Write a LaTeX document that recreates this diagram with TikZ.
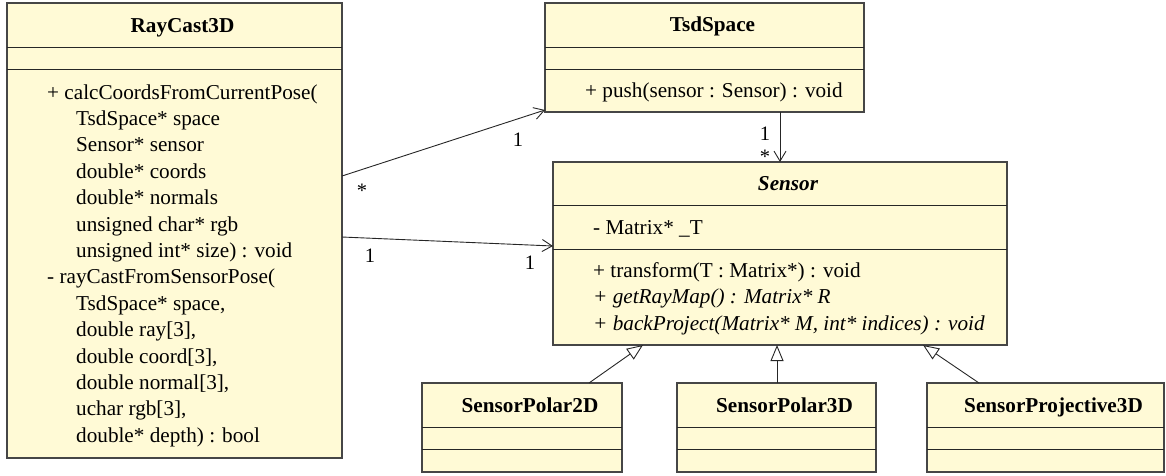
\documentclass[tikz,border=0pt]{standalone}
\usepackage{fontspec}
\setmainfont{Liberation Serif}
\usetikzlibrary{arrows.meta,calc}
\definecolor{umlfill}{RGB}{255,250,214}
\definecolor{umlline}{RGB}{70,70,70}
\begin{document}
\begin{tikzpicture}[x=1pt,y=-1pt,
  box/.style={draw=umlline, fill=umlfill, line width=1.2pt, anchor=north west, inner sep=0pt, outer sep=0pt},
  sepline/.style={draw=black!85, line width=0.9pt},
  txt/.style={anchor=base west, inner sep=0pt, font=\fontsize{21.2}{25}\selectfont},
  ttl/.style={anchor=base, inner sep=0pt, font=\fontsize{21.2}{25}\selectfont\bfseries},
  mult/.style={anchor=base, inner sep=0pt, font=\fontsize{20.5}{25}\selectfont},
  assoc/.style={draw=black!85, line width=0.9pt, -{Straight Barb[length=10pt,width=12pt]}},
  gen/.style={draw=black!85, line width=0.9pt, -{Triangle[open,length=16pt,width=13pt,fill=white]}},
]
\useasboundingbox (0,0) rectangle (1166,475);

% ---- boxes ----
\node[box, minimum width=335pt, minimum height=455pt] (ray) at (7,3) {};
\node[box, minimum width=319pt, minimum height=109pt] (tsd) at (545,3) {};
\node[box, minimum width=454pt, minimum height=183pt] (sensor) at (553,162) {};
\node[box, minimum width=200pt, minimum height=89pt] (sp2) at (422,383) {};
\node[box, minimum width=199pt, minimum height=89pt] (sp3) at (677,383) {};
\node[box, minimum width=237pt, minimum height=89pt] (spr) at (927,383) {};

% ---- compartment separators ----
\foreach \b/\ya/\yb in {ray/47/69, tsd/47/69, sensor/205/249, sp2/427/449, sp3/427/449, spr/427/449}{
  \draw[sepline] (\b.west |- 0,\ya) -- (\b.east |- 0,\ya);
  \draw[sepline] (\b.west |- 0,\yb) -- (\b.east |- 0,\yb);
}

% ---- titles ----
\node[ttl] (rayT) at (182.5,32) {RayCast3D};
\node[ttl] (tsdT) at (712.5,31) {TsdSpace};
\node[ttl] (sensorT) at (788,190.5) {\itshape Sensor};
\node[ttl] (sp2T) at (530,412) {SensorPolar2D};
\node[ttl] (sp3T) at (784.5,412) {SensorPolar3D};
\node[ttl] (sprT) at (1053.5,412) {SensorProjective3D};

% ---- RayCast3D operations ----
\foreach \i/\x/\t in {0/47/{+ calcCoordsFromCurrentPose(},
  1/76/{TsdSpace* space},
  2/76/{Sensor* sensor},
  3/76/{double* coords},
  4/76/{double* normals},
  5/76/{unsigned char* rgb},
  6/76/{unsigned int* size) : void},
  7/47/{- rayCastFromSensorPose(},
  8/76/{TsdSpace* space,},
  9/76/{double ray[3],},
  10/76/{double coord[3],},
  11/76/{double normal[3],},
  12/76/{uchar rgb[3],},
  13/76/{double* depth) : bool}}{
  \node[txt] (rop\i) at (\x,{99+26.4*\i}) {\t};
}

% ---- TsdSpace operations ----
\node[txt] (tsdop) at (585,97) {+ push(sensor : Sensor) : void};

% ---- Sensor ----
\node[txt] (sattr) at (593,234) {- Matrix* \_T};
\node[txt] (sop1) at (593,277) {+ transform(T : Matrix*) : void};
\node[txt] (sop2) at (593,303.5) {\itshape + getRayMap() : Matrix* R};
\node[txt] (sop3) at (593,330) {\itshape + backProject(Matrix* M, int* indices) : void};

% ---- associations ----
\draw[assoc] ($(ray.north east)+(0,173)$) -- ($(tsd.south west)+(0,-2)$);
\draw[assoc] ($(ray.north east)+(0,234)$) -- ($(sensor.north west)+(0,84)$);
\draw[assoc] (tsd.south -| sensor.north) -- (sensor.north);

\node[mult] (m1) at (362,197) {*};
\node[mult] (m2) at (518,146) {1};
\node[mult] (m3) at (370,262) {1};
\node[mult] (m4) at (530,269) {1};
\node[mult] (m5) at (765,140) {1};
\node[mult] (m6) at (765,163) {*};

% ---- generalizations ----
\draw[gen] ($(sp2.north west)+(167,0)$) -- ($(sensor.south west)+(90,0)$);
\coordinate (g3) at ($(sp3.north west)+(100,0)$);
\draw[gen] (g3) -- (g3 |- sensor.south);
\draw[gen] ($(spr.north west)+(52,0)$) -- ($(sensor.south west)+(370,0)$);
\end{tikzpicture}
\end{document}
